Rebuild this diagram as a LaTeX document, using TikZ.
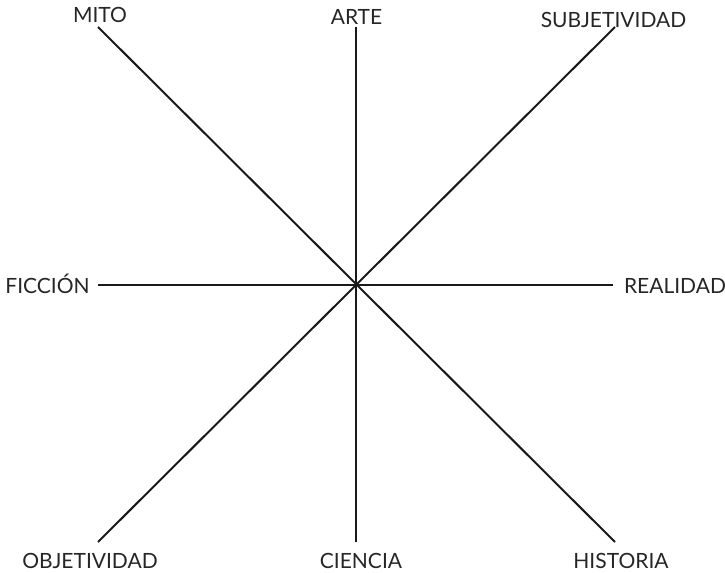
\documentclass[tikz,border=0pt]{standalone}
\usepackage{fontspec}
\setmainfont{Lato}
\usepackage{tikz}
\usetikzlibrary{positioning}

\begin{document}
\begin{tikzpicture}[
    x=0.5pt, y=-0.5pt,
    every node/.style={font=\fontsize{10.5}{12}\selectfont},
    term/.style={anchor=base, inner sep=0pt, text=black!85},
    axis/.style={line width=1pt, black!90}
  ]
  \useasboundingbox (0,0) rectangle (725,573);

  % ends of the four lines
  \coordinate (c) at (356,284.5);
  \coordinate (nw) at (98,27);
  \coordinate (n) at (356,27);
  \coordinate (ne) at (615,27);
  \coordinate (w) at (98,284.5);
  \coordinate (e) at (613,284.5);
  \coordinate (sw) at (98,542);
  \coordinate (s) at (356,542);
  \coordinate (se) at (615,542);

  \node[term] (mito) at (100,23) {MITO};
  \node[term] (arte) at (356.5,25) {ARTE};
  \node[term] (subj) at (613.5,27) {SUBJETIVIDAD};
  \node[term] (ficcion) at (47.5,293) {FICCIÓN};
  \node[term] (realidad) at (675,293) {REALIDAD};
  \node[term] (obj) at (90,568) {OBJETIVIDAD};
  \node[term] (ciencia) at (361,568) {CIENCIA};
  \node[term] (historia) at (621,568) {HISTORIA};

  \draw[axis] (nw) -- (se);
  \draw[axis] (n) -- (s);
  \draw[axis] (ne) -- (sw);
  \draw[axis] (w) -- (e);

\end{tikzpicture}
\end{document}
